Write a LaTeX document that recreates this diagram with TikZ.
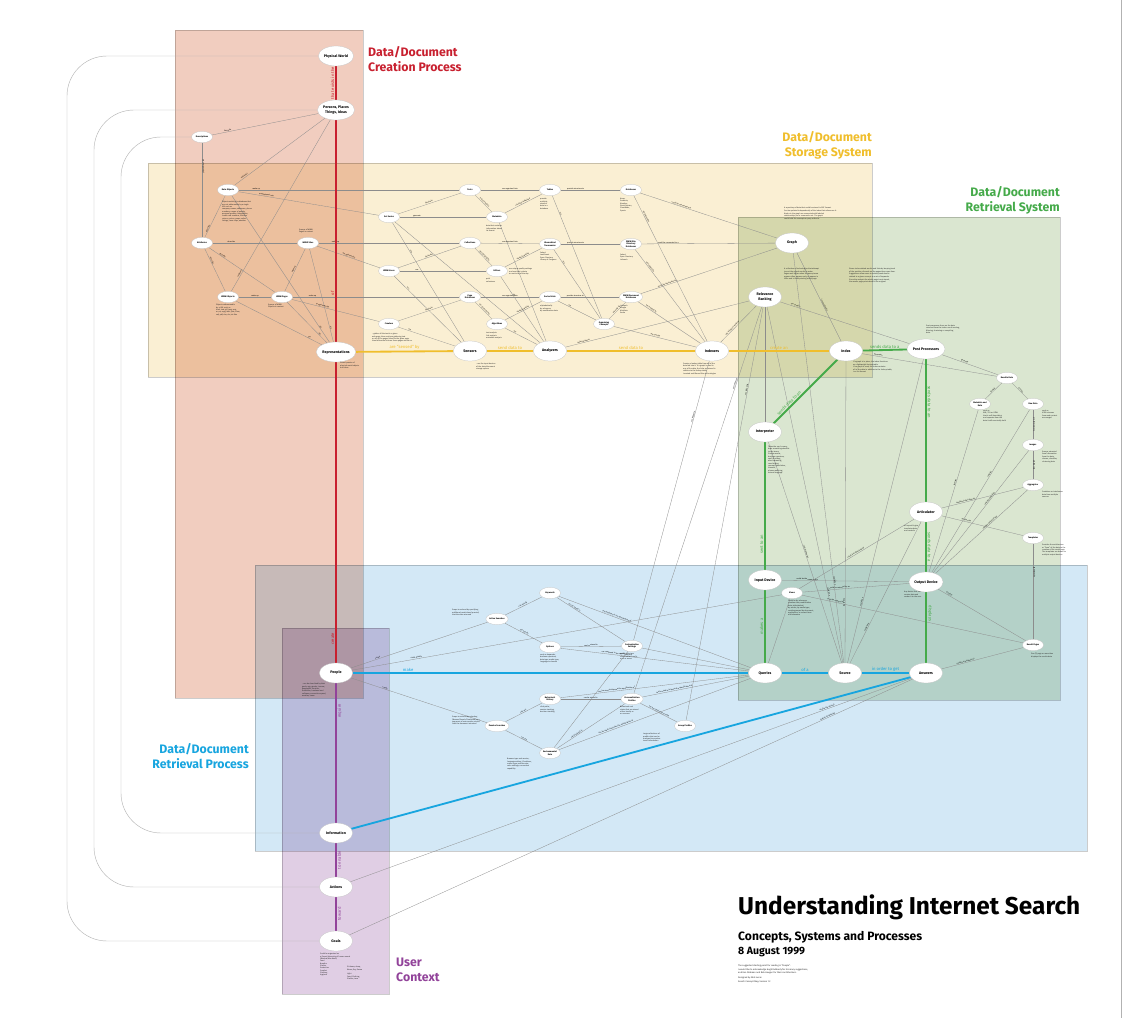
\documentclass[tikz,border=0pt]{standalone}
\usepackage{fontspec}
\usepackage{graphicx}
\setmainfont{Fira Sans}
\usetikzlibrary{shapes.geometric}

\definecolor{creationbg}{HTML}{F1CDBF}
\definecolor{storagebg}{HTML}{FAEFD3}
\definecolor{retsysbg}{HTML}{DAE6D0}
\definecolor{retprocbg}{HTML}{D3E8F6}
\definecolor{userbg}{HTML}{E0CEE4}
\definecolor{creationline}{HTML}{C8202F}
\definecolor{storageline}{HTML}{F0BE2C}
\definecolor{retsysline}{HTML}{45AA4A}
\definecolor{retprocline}{HTML}{17A5DF}
\definecolor{userline}{HTML}{92439A}

\pgfdeclarelayer{regions}
\pgfdeclarelayer{links}
\pgfsetlayers{regions,links,main}

\tikzset{
  concept/.style={ellipse, fill=white, draw=black!25, line width=0.2pt, inner sep=0.3pt, align=center},
  major/.style={concept, minimum width=10mm, minimum height=6mm, font=\fontsize{3.1}{3.5}\selectfont\bfseries},
  minor/.style={concept, minimum width=6.3mm, minimum height=3.4mm, font=\fontsize{1.8}{2.1}\selectfont\bfseries},
  link/.style={draw=black!45, line width=0.25pt},
  lab/.style={sloped, above, inner sep=0.3pt, font=\fontsize{1.6}{1.8}\selectfont},
  note/.style={anchor=north west, align=left, inner sep=0pt, text=black!85, font=\fontsize{1.6}{2}\selectfont},
  region/.style={draw=black!20, line width=0.3pt, blend mode=multiply},
  axis/.style={line width=0.55mm},
  axislab/.style={inner sep=0.8pt, font=\fontsize{3.6}{4}\selectfont},
  heading/.style={inner sep=0pt, font=\fontsize{10.5}{12.6}\selectfont\bfseries}
}

\begin{document}
\begin{tikzpicture}[x=0.3mm,y=-0.3mm]
\useasboundingbox (0,0) rectangle (1125,1018);

% the five areas
\begin{pgfonlayer}{regions}
  \fill[white] (0,0) rectangle (1125,1018);
  \filldraw[region, fill=creationbg] (175,30) rectangle (363,698);
  \filldraw[region, fill=storagebg] (148,163) rectangle (872,377);
  \filldraw[region, fill=retsysbg] (738,217) rectangle (1060,700);
  \filldraw[region, fill=retprocbg] (255,565) rectangle (1087,851);
  \filldraw[region, fill=userbg] (282,628) rectangle (389,994);
  \draw[black!30, line width=0.3pt] (1121,0) -- (1121,1018);
\end{pgfonlayer}

\node[heading, anchor=north west, align=left, text=creationline] at (368,46) {Data/Document\\Creation Process};
\node[heading, anchor=north east, align=right, text=storageline] at (872,131) {Data/Document\\Storage System};
\node[heading, anchor=north east, align=right, text=retsysline] at (1060,186) {Data/Document\\Retrieval System};
\node[heading, anchor=north east, align=right, text=retprocline] at (249,743) {Data/Document\\Retrieval Process};
\node[heading, anchor=north west, align=left, text=userline] at (396,958) {User\\Context};

% creation
\node[major] (world) at (336,56) {Physical World};
\node[major] (persons) at (336,110) {Persons, Places\\Things, Ideas};
\node[minor] (descr) at (202,137) {Descriptions};
\node[minor] (dataobj) at (228,190) {Data Objects};
\node[minor] (attr) at (202,243) {Attributes};
\node[minor] (wwwsites) at (308,243) {WWW Sites};
\node[minor] (wwwobj) at (228,297) {WWW Objects};
\node[minor] (wwwpages) at (282,297) {WWW Pages};
\node[major] (repr) at (336,352) {Representations};

% storage
\node[minor] (setseries) at (389,217) {Set Series};
\node[minor] (wwwusers) at (389,271) {WWW Users};
\node[minor] (crawlers) at (389,324) {Crawlers};
\node[minor] (texts) at (470,190) {Texts};
\node[minor] (metadata) at (497,217) {Metadata};
\node[minor] (tables) at (550,190) {Tables};
\node[minor] (databases) at (631,190) {Databases};
\node[minor] (collections) at (470,243) {Collections};
\node[minor] (taxo) at (550,244) {Hierarchical\\Taxonomies};
\node[minor] (sitedb) at (631,244) {WWW Site\\Directory\\Databases};
\node[minor] (editors) at (497,271) {Editors};
\node[minor] (pagedb) at (470,297) {Page\\Databases};
\node[minor] (sorted) at (550,297) {Sorted Lists};
\node[minor] (docdb) at (631,297) {WWW Document\\Databases};
\node[minor] (algo) at (497,324) {Algorithms};
\node[minor] (organize) at (604,324) {Organizing\\Concepts};
\node[major] (sensors) at (470,351) {Sensors};
\node[major] (analyzers) at (550,351) {Analyzers};
\node[major] (indexers) at (712,351) {Indexers};

% retrieval system
\node[major] (graph) at (792,243) {Graph};
\node[major] (ranking) at (765,297) {Relevance\\Ranking};
\node[major] (index) at (846,351) {Index};
\node[major] (post) at (926,349) {Post Processors};
\node[minor] (results) at (1007,378) {Results Data};
\node[minor] (metaanddata) at (980,404) {Metadata and\\Data};
\node[minor] (rawdata) at (1033,404) {Raw Data};
\node[minor] (images) at (1033,445) {Images};
\node[minor] (aggregator) at (1033,485) {Aggregator};
\node[major] (articulator) at (926,512) {Articulator};
\node[minor] (templates) at (1033,538) {Templates};
\node[major] (interpreter) at (765,432) {Interpreter};
\node[major] (input) at (765,580) {Input Device};
\node[major] (output) at (926,582) {Output Device};
\node[minor] (views) at (792,593) {Views};
\node[minor] (resultpages) at (1033,645) {Result Pages};
\node[major] (queries) at (765,673) {Queries};
\node[major] (source) at (845,673) {Source};
\node[major] (answers) at (926,673) {Answers};

% retrieval process and user context
\node[major] (people) at (336,673) {People};
\node[minor] (active) at (497,619) {Active Searches};
\node[minor] (keywords) at (550,593) {Keywords};
\node[minor] (options) at (550,647) {Options};
\node[minor] (custom) at (632,646) {Customization\\Settings};
\node[minor] (passive) at (497,726) {Passive Searches};
\node[minor] (behavior) at (550,699) {Behavioral\\History};
\node[minor] (profiles) at (632,699) {Personalization\\Profiles};
\node[minor] (groups) at (685,726) {Group Profiles};
\node[minor] (environ) at (550,753) {Environmental\\Data};
\node[major] (information) at (336,833) {Information};
\node[major] (actions) at (336,887) {Actions};
\node[major] (goals) at (336,941) {Goals};

% notes under the nodes
\node[note] at (222,201) {Objects existing in databases that\\are not addressable by a single\\URI such as\\company names, addresses, phone\\numbers, names of people,\\personal profiles, biographies,\\credit card numbers, election\\returns, prices, maps, online\\listings, news clips, weather};
\node[note] at (299,229) {Groups of WWW\\Pages in context};
\node[note] at (216,304) {Objects referenceable\\by a URL such as\\html, text, gif, jpeg, png,\\au, ra, mpg, mov, java, class,\\swf, pdf, doc, xls, txt files};
\node[note] at (268,304) {Groups of WWW\\Objects in context};
\node[note] at (340,362) {Stored proxies of\\physical world objects\\and ideas};
\node[note] at (372,333) {\dots gather all the text in a given\\web page, then continue gathering text\\on all of the pages linked to the given page,\\then follow the links on those pages and so on.};
\node[note] at (476,363) {\dots are the input devices\\of the data/document\\storage system};
\node[note] at (486,225) {data that contains\\information about\\its format};
\node[note] at (540,198) {provide\\multiple\\views of\\data in a\\database};
\node[note] at (620,198) {News,\\Products,\\Weather,\\Stock Quotes,\\Classifieds,\\Sports};
\node[note] at (540,252) {Yahoo!\\LookSmart\\Open Directory\\Library of Congress};
\node[note] at (620,254) {Yahoo!\\Open Directory\\Infoseek};
\node[note] at (509,268) {are unique quality settings\\and excellent criteria\\on each site of the day};
\node[note] at (486,278) {paid\\volunteers};
\node[note] at (540,305) {alphabetically\\by relevance\\by modification date};
\node[note] at (620,305) {Infoseek\\Google\\AltaVista\\Excite};
\node[note] at (486,332) {text analysis\\link analysis\\metadata analysis};
\node[note] at (683,363) {Creates a lookup table from all of the\\data fed into it. If a graph is used in\\any of the data, the links are stored in\\relation to the lookup table.\\[0.4pt]Inverted and Bloom filter technologies};
\node[note] at (784,207) {A repository of data that could be stored in RDF format.\\[0.4pt]Can be updated independently of the index that references it.\\[0.4pt]Nodes in the graph are connected with labeled\\relationships, as in a semantic net. The graph\\could hold the concepts a query refers to.};
\node[note] at (784,268) {A collection of technologies that attempt\\to sort the search results in order.\\[0.4pt]Pages rank higher when the query terms\\appear often, appear early, or appear in\\titles and in links pointing at the page.};
\node[note] at (849,268) {Stores index related results and links by keeping track\\of the position of words on the pages they come from.\\[0.4pt]Suggestions allow users to actively seek results\\related to a given concept or a set of keywords.\\[0.4pt]Since the analysis the whole page is not stored,\\the results page points back to the original.};
\node[note] at (853,361) {If a graph is in place, the index functions\\as a lightweight lookup table.\\[0.4pt]If no graph is used, the index contains\\all of the data in addition to the lookup table,\\in a list format.};
\node[note] at (926,325) {Post processors focus on the data\\returned from the index: result sorting,\\filtering, clustering or compiling\\data.};
\node[note] at (983,410) {such as\\XML, TDL or HTML\\that is self-describing\\and separate from the\\data it will eventually hold};
\node[note] at (1042,410) {such as\\HTML streams\\from web content\\are merged};
\node[note] at (1042,451) {Groups extracted\\from information\\from the data,\\classes, classifier,\\clustering data};
\node[note] at (1042,491) {Combines or interleaves\\data from multiple\\sources};
\node[note] at (1042,544) {Provides the architecture\\or ``form'' of the data to the\\creation of the result page.\\The templates are known to\\multiple output devices};
\node[note] at (904,525) {or Layout Engine\\translates data\\and controls};
\node[note] at (768,446) {Takes the user's query,\\does something sensible\\to the terms:\\Simple results,\\boolean operators,\\spell checking,\\word stemming,\\case folding,\\concept/translation,\\thesauri,\\phrase matching,\\natural language};
\node[note] at (788,600) {Could be by relevance,\\creation date, modification\\date, alphabetical,\\by source, by media type,\\results grouped by document,\\application, or correct form\\and relevance};
\node[note] at (904,591) {Any device that can\\receive data and\\render it to the user};
\node[note] at (1031,653) {One (1) page or more than\\displays the results data};
\node[note] at (452,609) {Scope is reduced by specifying\\additional restrictions (queries)\\that the data returned};
\node[note] at (452,716) {Scope is reduced by selecting\\(Browse/Search/Combined) as a\\sequence of user results; results\\limit the document returned};
\node[note] at (540,654) {such as keywords,\\boolean operators,\\date type, media type,\\language or domain};
\node[note] at (620,653) {options that are\\stored either locally\\or on a server};
\node[note] at (540,706) {click paths,\\session tracking,\\decision tracking};
\node[note] at (620,706) {Behavioral and\\status that are stored\\either locally or\\on a server};
\node[note] at (643,733) {Large collections of\\profiles that can be\\analyzed to produce\\trend information};
\node[note] at (507,758) {Browser type and version,\\language setting, IP address,\\screen type, monitor size,\\color settings, connection\\capability};
\node[note] at (302,683) {\dots can be described by their\\goals, age, gender, income,\\geographic location,\\education, hardware and\\software, connection speed,\\weather, home};
\node[note] at (320,953) {Could be organized as\\a (loose) hierarchy of human needs\\(Maslow/Max Neef):\\Food\\Breathe\\Shelter\\Protection\\Comfort\\Clothing\\Hygiene};
\node[note] at (347,966) {Sit down; sleep,\\Warm; Dry; Dream\\\\Light\\Food; Clothing,\\Shelter; Love};

% title block
\node[anchor=north west, inner sep=0pt] (title) at (738,894) {\resizebox{102.6mm}{!}{\bfseries Understanding Internet Search}};
\node[anchor=north west, inner sep=0pt, align=left, font=\fontsize{9}{12.4}\selectfont\bfseries] (subtitle) at (738,931) {\resizebox{55.2mm}{!}{Concepts, Systems and Processes}\\8 August 1999};
\node[note, font=\fontsize{1.9}{2.9}\selectfont] at (738,965) {The suggested starting point for reading is ``People''.\\I would like to acknowledge Hugh Dubberly for his many suggestions,\\and Ken Dickman and Rob Haugen for their contributions.\\[1.4pt]Designed by Nick Lucas\\Search Concept Map, Version 1.2};

\begin{pgfonlayer}{links}
  % long loops on the left
  \draw[black!30, line width=0.35pt, rounded corners=12mm] (world) -- (67,56) -- (67,941) -- (goals);
  \draw[black!30, line width=0.35pt, rounded corners=12mm] (persons) -- (94,110) -- (94,887) -- (actions);
  \draw[black!30, line width=0.35pt, rounded corners=12mm] (descr) -- (121,137) -- (121,833) -- (information);

  % creation links
  \draw[link] (persons) -- node[lab, pos=0.85]{describe} (descr);
  \draw[link] (descr) -- node[lab, pos=0.25]{are composed of} (attr);
  \draw[link] (persons) -- node[lab, pos=0.88]{represent} (dataobj);
  \draw[link] (persons) -- node[lab, pos=0.9]{represent} (wwwobj);
  \draw[link] (dataobj) -- node[lab, pos=0.08]{make up} (texts);
  \draw[link] (dataobj) -- node[lab, pos=0.2]{are gathered into} (setseries);
  \draw[link] (dataobj) -- node[lab, pos=0.8]{describe} (attr);
  \draw[link] (dataobj) -- node[lab, pos=0.9]{are} (repr);
  \draw[link] (attr) -- node[lab, pos=0.22]{describe} (wwwsites);
  \draw[link] (attr) -- node[lab, pos=0.3]{describe} (wwwobj);
  \draw[link] (attr) -- node[lab, pos=0.2]{describe} (wwwpages);
  \draw[link] (wwwsites) -- node[lab, pos=0.12]{make up} (collections);
  \draw[link] (wwwsites) -- node[lab, pos=0.5]{are gathered by} (wwwusers);
  \draw[link] (wwwsites) -- node[lab, pos=0.5]{make up} (wwwpages);
  \draw[link] (wwwsites) -- node[lab, pos=0.85]{are} (repr);
  \draw[link] (wwwobj) -- node[lab]{make up} (wwwpages);
  \draw[link] (wwwobj) -- node[lab, pos=0.85]{are} (repr);
  \draw[link] (wwwpages) -- node[lab, pos=0.12]{make up} (pagedb);
  \draw[link] (wwwpages) -- node[lab, pos=0.35]{are gathered by} (crawlers);
  \draw[link] (wwwpages) -- node[lab, pos=0.8]{are} (repr);

  % storage links
  \draw[link] (setseries) -- node[lab]{generate} (texts);
  \draw[link] (setseries) -- node[lab, pos=0.2]{generate} (metadata);
  \draw[link] (setseries) -- node[lab, pos=0.25]{use} (sensors);
  \draw[link] (setseries) -- (analyzers);
  \draw[link] (wwwusers) -- node[lab]{generate} (collections);
  \draw[link] (wwwusers) -- node[lab, pos=0.2]{use} (editors);
  \draw[link] (wwwusers) -- node[lab, pos=0.2]{are} (sensors);
  \draw[link] (crawlers) -- node[lab]{generate} (pagedb);
  \draw[link] (crawlers) -- node[lab, pos=0.2]{are} (sensors);
  \draw[link] (texts) -- node[lab]{are organized into} (tables);
  \draw[link] (texts) -- node[lab]{is described by} (metadata);
  \draw[link] (metadata) -- node[lab]{could be organized} (tables);
  \draw[link] (metadata) -- (analyzers);
  \draw[link] (tables) -- node[lab, pos=0.25]{provide structure to} (databases);
  \draw[link] (collections) -- node[lab]{are organized into} (taxo);
  \draw[link] (collections) -- node[lab]{are evaluated by} (editors);
  \draw[link] (editors) -- node[lab]{create/maintain} (taxo);
  \draw[link] (editors) -- node[lab, pos=0.3]{are} (analyzers);
  \draw[link] (taxo) -- node[lab, pos=0.25]{provide structure to} (sitedb);
  \draw[link] (pagedb) -- node[lab]{are organized into} (sorted);
  \draw[link] (pagedb) -- node[lab]{are processed by} (algo);
  \draw[link] (algo) -- node[lab]{create/maintain} (sorted);
  \draw[link] (algo) -- node[lab, pos=0.3]{are} (analyzers);
  \draw[link] (sorted) -- node[lab, pos=0.25]{provide structure to} (docdb);
  \draw[link] (tables) -- node[lab, pos=0.15]{are} (organize);
  \draw[link] (taxo) -- node[lab, pos=0.2]{are} (organize);
  \draw[link] (sorted) -- node[lab, pos=0.3]{are} (organize);
  \draw[link] (organize) -- node[lab, pos=0.5]{are used by} (docdb);
  \draw[link] (organize) -- node[lab, pos=0.5]{are used by} (indexers);
  \draw[link] (databases) -- node[lab, pos=0.3]{could be connected to a} (graph);
  \draw[link] (sitedb) -- node[lab, pos=0.2]{could be connected to a} (graph);
  \draw[link] (docdb) -- node[lab, pos=0.2]{could be connected to a} (graph);
  \draw[link] (databases) -- node[lab, pos=0.15]{are indexed by} (indexers);
  \draw[link] (sitedb) -- node[lab, pos=0.2]{are indexed by} (indexers);
  \draw[link] (docdb) -- node[lab, pos=0.2]{are indexed by} (indexers);
  \draw[link] (analyzers) -- node[lab, pos=0.1]{collect data for} (ranking);

  % retrieval system links
  \draw[link] (indexers) -- node[lab, pos=0.35]{use relevance ranking} (ranking);
  \draw[link] (graph) -- node[lab, pos=0.6]{is connected to} (index);
  \draw[link] (ranking) -- node[lab, pos=0.12]{are used by} (post);
  \draw[link] (post) -- node[lab, pos=0.4]{generate} (results);
  \draw[link] (index) -- node[lab, pos=0.12]{generates} (results);
  \draw[link] (results) -- node[lab]{contain} (metaanddata);
  \draw[link] (results) -- node[lab]{contain} (rawdata);
  \draw[link] (rawdata) -- node[lab]{are formed into} (images);
  \draw[link] (images) -- node[lab]{are fed into} (aggregator);
  \draw[link] (articulator) -- node[lab, pos=0.3]{combines data from an} (aggregator);
  \draw[link] (articulator) -- node[lab, pos=0.3]{applies the} (templates);
  \draw[link] (templates) -- node[lab, pos=0.3]{generate the} (resultpages);
  \draw[link] (output) -- node[lab, pos=0.55]{receives} (metaanddata);
  \draw[link] (output) -- node[lab, pos=0.6]{receives} (rawdata);
  \draw[link] (output) -- node[lab, pos=0.6]{receives data from} (images);
  \draw[link] (output) -- node[lab, pos=0.6]{receives data from the} (aggregator);
  \draw[link] (articulator) -- node[lab, pos=0.5]{could be influenced by} (views);
  \draw[link] (output) -- node[lab, pos=0.12]{displays} (resultpages);
  \draw[link] (resultpages) -- node[lab, pos=0.7]{could be contained in} (answers);
  \draw[link] (resultpages) -- node[lab, pos=0.85]{could be mapped to} (views);
  \draw[link] (input) -- node[lab, pos=0.2]{could be the same as the} (output);
  \draw[link] (views) -- node[lab, pos=0.35]{could be returned by an} (output);
  \draw[link] (views) -- (queries);
  \draw[link] (graph) -- node[lab, pos=0.8]{could be a} (source);
  \draw[link] (ranking) -- node[lab, pos=0.8]{could be a} (source);
  \draw[link] (index) -- node[lab, pos=0.8]{could be a} (source);
  \draw[link] (post) -- node[lab, pos=0.8]{could be a} (source);
  \draw[link] (articulator) -- node[lab, pos=0.75]{could be a} (source);
  \draw[link] (interpreter) -- node[lab, pos=0.5]{could refine the} (source);
  \draw[link] (ranking) -- (queries);
  \draw[link] (indexers) -- node[lab, pos=0.2]{can influence} (custom);
  \draw[link] (ranking) -- node[lab, pos=0.2]{can influence} (profiles);
  \draw[link] (ranking) -- node[lab, pos=0.2]{can influence} (groups);

  % retrieval process links
  \draw[link] (people) -- node[lab, pos=0.2]{create} (active);
  \draw[link] (people) -- node[lab, pos=0.15]{could specify} (views);
  \draw[link] (people) -- node[lab, pos=0.25]{create} (passive);
  \draw[link] (active) -- node[lab]{can specify} (keywords);
  \draw[link] (active) -- node[lab]{can specify} (options);
  \draw[link] (keywords) -- node[lab, pos=0.3]{are combined in the specification of} (queries);
  \draw[link] (keywords) -- node[lab, pos=0.25]{can be stored in} (custom);
  \draw[link] (options) -- node[lab]{can be stored in} (custom);
  \draw[link] (options) -- node[lab, pos=0.3]{are combined in the specification of} (queries);
  \draw[link] (custom) -- (queries);
  \draw[link] (passive) -- node[lab]{can use} (behavior);
  \draw[link] (passive) -- node[lab]{can use} (environ);
  \draw[link] (behavior) -- node[lab]{can be stored in} (profiles);
  \draw[link] (behavior) -- node[lab, pos=0.3]{can be used to improve the specification of} (queries);
  \draw[link] (profiles) -- node[lab, pos=0.3]{can be used to improve the specification of} (queries);
  \draw[link] (profiles) -- node[lab]{can be combined to create} (groups);
  \draw[link] (environ) -- node[lab, pos=0.3]{can be stored in} (profiles);
  \draw[link] (environ) -- node[lab, pos=0.3]{can be used to improve the specification of} (queries);
  \draw[link] (environ) -- (custom);
  \draw[link] (answers) -- node[lab, pos=0.15]{enable the desired} (actions);
  \draw[link] (answers) -- node[lab, pos=0.15]{lead to the desired} (goals);

  % the main chains
  \draw[axis, creationline] (world) -- node[axislab, rotate=90, anchor=south, text=creationline]{that exists in the} (persons)
    -- node[axislab, rotate=90, anchor=south, pos=0.78, text=creationline]{of} (repr)
    -- node[axislab, rotate=90, anchor=south, pos=0.92, text=creationline]{create} (people);
  \draw[axis, userline, line width=0.4mm] (people) -- node[axislab, rotate=90, anchor=north, pos=0.2, text=userline]{require} (information)
    -- node[axislab, rotate=90, anchor=north, text=userline]{to enable} (actions)
    -- node[axislab, rotate=90, anchor=north, text=userline]{toward} (goals);
  \draw[axis, storageline] (repr) -- node[axislab, above, text=storageline]{are ``sensed'' by} (sensors)
    -- node[axislab, above, text=storageline]{send data to} (analyzers)
    -- node[axislab, above, text=storageline]{send data to} (indexers)
    -- node[axislab, above, text=storageline]{create an} (index);
  \draw[axis, retsysline] (index) -- node[axislab, above, text=retsysline]{sends data to a} (post);
  \draw[axis, retsysline] (index) -- node[axislab, sloped, above, text=retsysline, pos=0.72]{sends data to an} (interpreter);
  \draw[axis, retsysline] (interpreter) -- node[axislab, rotate=90, anchor=south, text=retsysline, pos=0.8]{sent to an} (input)
    -- node[axislab, rotate=90, anchor=south, text=retsysline]{makes a} (queries);
  \draw[axis, retsysline] (post) -- node[axislab, rotate=-90, anchor=south, text=retsysline, pos=0.3]{sends data to an} (articulator)
    -- node[axislab, rotate=-90, anchor=south, text=retsysline]{sends data to a} (output)
    -- node[axislab, rotate=-90, anchor=south, text=retsysline, pos=0.3]{displays} (answers);
  \draw[axis, retprocline] (people) -- node[axislab, above, text=retprocline, pos=0.14]{make} (queries)
    -- node[axislab, above, text=retprocline]{of a} (source)
    -- node[axislab, above, text=retprocline]{in order to get} (answers);
  \draw[axis, retprocline] (answers) -- (information);
\end{pgfonlayer}
\end{tikzpicture}
\end{document}
